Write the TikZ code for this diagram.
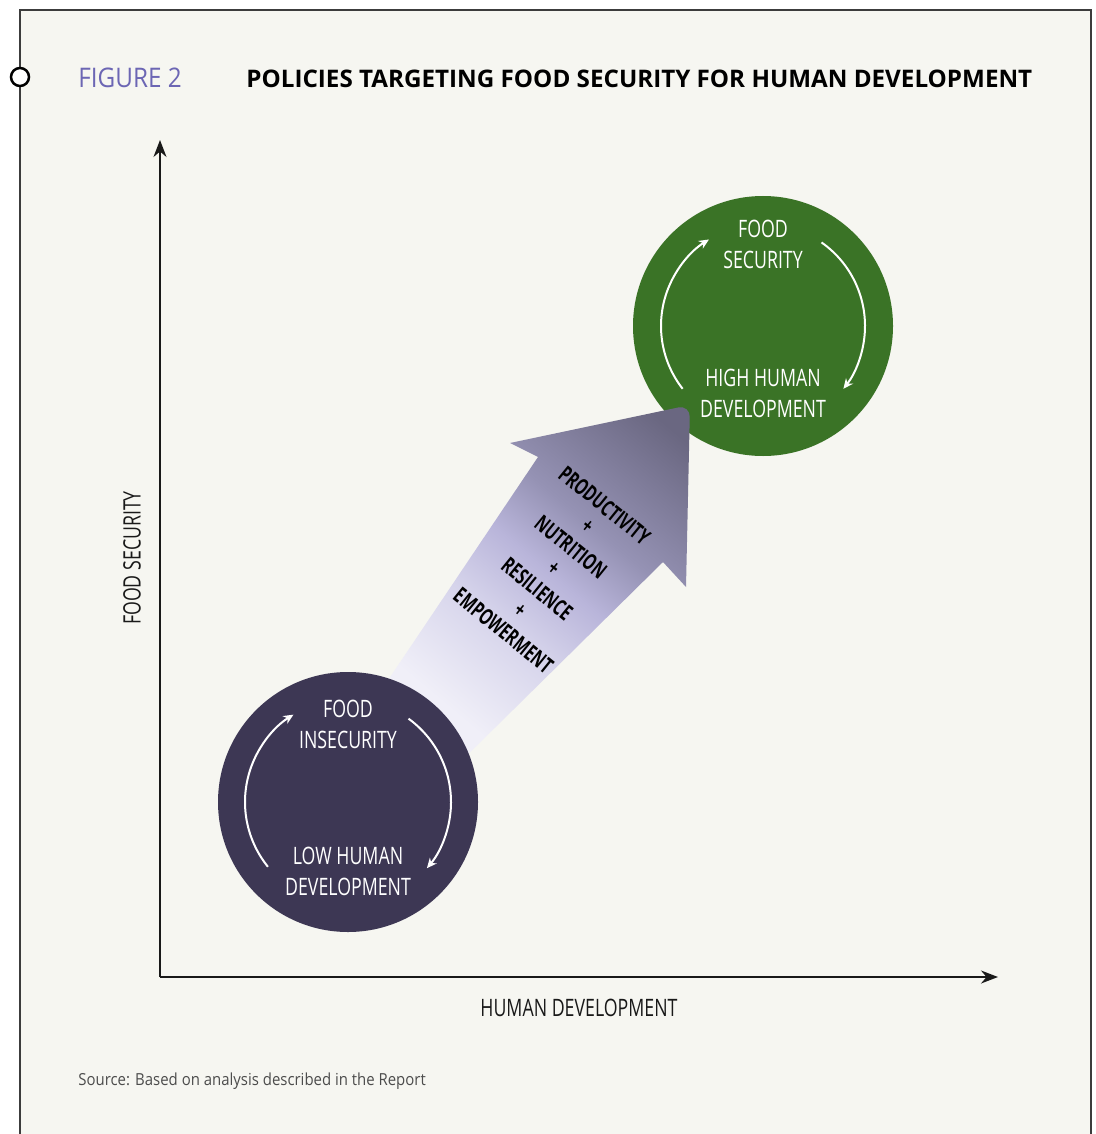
\documentclass[tikz,border=0pt]{standalone}
\usepackage{fontspec}
\setmainfont{Open Sans}
\newfontfamily\condfont[FakeStretch=0.74]{Open Sans}
\newfontfamily\pilfont[FakeStretch=0.67]{Open Sans}
\newfontfamily\figfont[FakeStretch=0.9]{Open Sans}
\usetikzlibrary{arrows.meta}
\definecolor{papir}{HTML}{F6F6F1}
\definecolor{ramme}{HTML}{3C3C3C}
\definecolor{figblaa}{HTML}{6C66B4}
\definecolor{groenn}{HTML}{3A7326}
\definecolor{lilla}{HTML}{3D3754}
\definecolor{pillys}{HTML}{F6F5FC}
\definecolor{pilhale}{HTML}{F0EFF8}
\definecolor{pilbleik}{HTML}{D6D4EB}
\definecolor{pilmidt}{HTML}{B9B5DA}
\definecolor{pilgraa}{HTML}{9592B4}
\definecolor{pilmork}{HTML}{6A6781}
% shading of the policy arrow, light tail to dark head
\pgfdeclareverticalshading{pilskygge}{100bp}{
    color(0bp)=(pillys); color(30bp)=(pilhale); color(44bp)=(pilbleik);
    color(54bp)=(pilmidt); color(63bp)=(pilgraa); color(81bp)=(pilmork);
    color(100bp)=(pilmork)}
\tikzset{
    %Define standard arrow tip
    >={Stealth[length=8.5pt,width=6.5pt]},
    %Define style for the two circles
    sirkel/.style={
           circle,
           inner sep=0pt,
           minimum size=130pt},
    % Define style for circle texts
    sirkeltekst/.style={
           text=white,
           align=center,
           inner sep=0pt,
           font=\condfont\fontsize{12}{15.5}\selectfont},
    % Define style for the small cycle arrows
    syklus/.style={
           ->,
           white,
           line width=1pt,
           >={Stealth[length=5pt,width=4.5pt]}},
    % Define axis style
    akse/.style={
           ->,
           draw=black!90,
           line width=0.75pt},
    aksetekst/.style={
           text=black!90,
           inner sep=0pt,
           font=\condfont\fontsize{12}{14}\selectfont}
}
\begin{document}
\begin{tikzpicture}[x=0.5pt, y=0.5pt]
     \useasboundingbox (0,0) rectangle (1096,-1134);
     % frame
     \fill[white] (0,0) rectangle (1096,-1134);
     \filldraw[fill=papir, draw=ramme, line width=1pt] (20,-10) rectangle (1091,-1160);
     \filldraw[fill=white, draw=black, line width=1.25pt] (20,-77) circle (9);
     % heading
     \node[anchor=base west, inner sep=0pt, text=figblaa,
           font=\figfont\fontsize{13.5}{15}\selectfont] (fignr) at (78,-88) {FIGURE 2};
     \node[anchor=base west, inner sep=0pt,
           font=\bfseries\fontsize{12.1}{14}\selectfont] (tittel) at (246,-88)
           {POLICIES TARGETING FOOD SECURITY FOR HUMAN DEVELOPMENT};
     % axes
     \coordinate (origo) at (160,-977);
     \coordinate (ytopp) at (160,-140);
     \coordinate (xende) at (998,-977);
     \draw[akse] (origo) -- (ytopp);
     \draw[akse] (origo) -- (xende);
     \node[aksetekst, rotate=90] (ytekst) at (132,-558) {FOOD SECURITY};
     \node[aksetekst] (xtekst) at (579,-1008) {HUMAN DEVELOPMENT};
     % high circle
     \node[sirkel, fill=groenn] (hoy) at (763,-326) {};
     \node[sirkeltekst] (fs) at (763,-244) {FOOD\\SECURITY};
     \node[sirkeltekst] (hhd) at (763,-393) {HIGH HUMAN\\DEVELOPMENT};
     \draw[syklus] ([shift={(218:51pt)}]hoy.center) arc[start angle=218, end angle=122, radius=51pt];
     \draw[syklus] ([shift={(55:51pt)}]hoy.center) arc[start angle=55, end angle=-38, radius=51pt];
     % policy arrow
     \shade[shading=pilskygge, shading angle=-40]
       (370,-707) -- (538,-457) -- (510,-443) [rounded corners=6pt] -- (690,-405)
       [sharp corners] -- (686,-587) -- (663,-562) -- (440,-782) -- cycle;
     \node[rotate=-39, align=center, inner sep=0pt,
           font=\pilfont\bfseries\fontsize{11.2}{13.4}\selectfont] (tiltak) at (554,-568)
           {PRODUCTIVITY\\+\\NUTRITION\\+\\RESILIENCE\\+\\EMPOWERMENT};
     % low circle
     \node[sirkel, fill=lilla] (lav) at (348,-802) {};
     \node[sirkeltekst] (fi) at (348,-724) {FOOD\\INSECURITY};
     \node[sirkeltekst] (lhd) at (348,-871) {LOW HUMAN\\DEVELOPMENT};
     \draw[syklus] ([shift={(219:51.5pt)}]lav.center) arc[start angle=219, end angle=122, radius=51.5pt];
     \draw[syklus] ([shift={(54:51.5pt)}]lav.center) arc[start angle=54, end angle=-40, radius=51.5pt];
     % source
     \node[anchor=base west, inner sep=0pt, text=black!70,
           font=\figfont\fontsize{8.3}{10}\selectfont] (kilde) at (78,-1085)
           {Source: Based on analysis described in the Report};
\end{tikzpicture}
\end{document}
